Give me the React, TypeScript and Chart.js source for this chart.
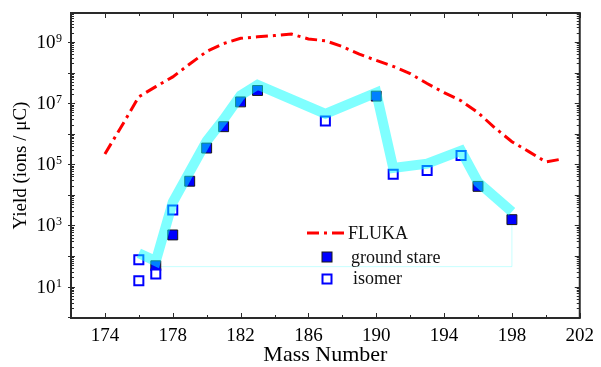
import React, { useEffect, useRef } from "react";
import { Chart, registerables } from "chart.js";

Chart.register(...registerables);

// ---- data ----
const flukaMass = [174, 175, 176, 177, 178, 179, 180, 181, 182, 183, 184, 185, 186, 187, 188, 189, 190, 191, 192, 193, 194, 195, 196, 197, 198, 199, 200, 201];
const flukaYield = [2.19e5, 1.82e6, 1.62e7, 3.47e7, 7.24e7, 1.91e8, 4.9e8, 8.9e8, 1.32e9, 1.48e9, 1.62e9, 1.82e9, 1.26e9, 1.1e9, 7.1e8, 4.0e8, 2.5e8, 1.6e8, 9.3e7, 4.4e7, 2.2e7, 1.2e7, 4.9e6, 1.55e6, 5.5e5, 2.6e5, 1.2e5, 1.5e5];

const groundMass = [177, 178, 179, 180, 181, 182, 183, 190, 196, 198];
const groundYield = [48, 490, 2.8e4, 3.4e5, 1.7e6, 1.1e7, 2.6e7, 1.7e7, 1.9e4, 1.55e3];

const isomerMass = [176, 176, 177, 178, 187, 191, 193, 195];
const isomerYield = [76, 15.5, 26, 3200, 2.6e6, 4.7e4, 6.3e4, 1.95e5];

const bandMass = [176, 177, 178, 180, 181, 182, 183, 187, 190, 191, 193, 195, 196, 198];
const bandYield = [123, 68, 5750, 5.75e5, 2.95e6, 1.8e7, 4.0e7, 4.5e6, 2.2e7, 7.6e4, 1.05e5, 2.8e5, 2.6e4, 2.8e3];

const traceMass = [177, 198, 198];
const traceYield = [45, 45, 2000];

const xMajorTicks = [174, 178, 182, 186, 190, 194, 198, 202];
const xMinorTicks = [176, 180, 184, 188, 192, 196, 200];
const yLabelExponents = [1, 3, 5, 7, 9];
const yDecadeExponents = [0, 1, 2, 3, 4, 5, 6, 7, 8, 9, 10];

const legendLabels = ["FLUKA", "ground stare", "isomer"];

const FONT = "'Liberation Serif', 'Times New Roman', serif";
const DASH = [12, 5, 3, 5];

const toPts = (xs: number[], ys: number[]) => xs.map((x, i) => ({ x, y: ys[i] }));

const framePlugin = {
  id: "frameTicksLegend",
  afterDraw(chart: any) {
    const { ctx, chartArea, scales } = chart;
    const { left, right, top, bottom } = chartArea;
    const xs = scales.x;
    const ys = scales.y;
    ctx.save();
    ctx.strokeStyle = "#2a2a2a";
    ctx.lineWidth = 1;
    // x ticks (bottom & top, inward)
    const vline = (x: number, y1: number, y2: number) => {
      ctx.beginPath();
      ctx.moveTo(x, y1);
      ctx.lineTo(x, y2);
      ctx.stroke();
    };
    const hline = (y: number, x1: number, x2: number) => {
      ctx.beginPath();
      ctx.moveTo(x1, y);
      ctx.lineTo(x2, y);
      ctx.stroke();
    };
    xMajorTicks.forEach((v) => {
      const px = Math.round(xs.getPixelForValue(v)) + 0.5;
      vline(px, bottom, bottom - 5);
      vline(px, top, top + 5);
    });
    xMinorTicks.forEach((v) => {
      const px = Math.round(xs.getPixelForValue(v)) + 0.5;
      vline(px, bottom, bottom - 3);
      vline(px, top, top + 3);
    });
    // y ticks (log)
    const yMin = ys.min;
    const yMax = ys.max;
    yDecadeExponents.forEach((e) => {
      const dv = Math.pow(10, e);
      if (dv >= yMin && dv <= yMax) {
        const py = Math.round(ys.getPixelForValue(dv)) + 0.5;
        hline(py, left - 3, left + 4);
        hline(py, right - 5, right);
      }
      for (let k = 2; k <= 9; k++) {
        const v = k * dv;
        if (v < yMin || v > yMax) continue;
        const py = Math.round(ys.getPixelForValue(v)) + 0.5;
        hline(py, left, left + 3);
        hline(py, right - 3, right);
      }
    });
    // frame
    ctx.strokeStyle = "#2a2a2a";
    ctx.lineWidth = 2;
    ctx.strokeRect(left, top, right - left, bottom - top);

    // y tick labels with superscripts
    ctx.fillStyle = "#000";
    const labelRight = left - 9;
    yLabelExponents.forEach((e) => {
      const yy = ys.getPixelForValue(Math.pow(10, e));
      const es = String(e);
      ctx.font = `12px ${FONT}`;
      const ew = ctx.measureText(es).width;
      ctx.textAlign = "left";
      ctx.textBaseline = "alphabetic";
      ctx.fillText(es, labelRight - ew, yy);
      ctx.font = `19px ${FONT}`;
      ctx.textAlign = "right";
      ctx.textBaseline = "middle";
      ctx.fillText("10", labelRight - ew - 0.5, yy + 1);
    });

    // legend
    const lx = left + 236;
    const ly = top + 220;
    ctx.strokeStyle = "#ff0000";
    ctx.lineWidth = 3;
    ctx.setLineDash(DASH);
    ctx.beginPath();
    ctx.moveTo(lx, ly);
    ctx.lineTo(lx + 38, ly);
    ctx.stroke();
    ctx.setLineDash([]);
    ctx.font = `18px ${FONT}`;
    ctx.textAlign = "left";
    ctx.textBaseline = "alphabetic";
    ctx.fillStyle = "#111";
    ctx.fillText(legendLabels[0], lx + 41, ly + 6);

    // ground square
    const sqx = lx + 20;
    ctx.fillStyle = "#0000ff";
    ctx.fillRect(sqx - 5, ly + 19, 10, 10);
    ctx.strokeStyle = "#1a1a1a";
    ctx.lineWidth = 1;
    ctx.strokeRect(sqx - 5, ly + 19, 10, 10);
    ctx.fillStyle = "#111";
    ctx.fillText(legendLabels[1], lx + 44, ly + 30);

    // isomer square
    ctx.fillStyle = "#ffffff";
    ctx.fillRect(sqx - 4.5, ly + 41.5, 9, 9);
    ctx.strokeStyle = "#0000ff";
    ctx.lineWidth = 2;
    ctx.strokeRect(sqx - 4.5, ly + 41.5, 9, 9);
    ctx.fillStyle = "#111";
    ctx.fillText(legendLabels[2], lx + 46, ly + 51);

    ctx.restore();
  },
};

export default function App() {
  const canvasRef = useRef<HTMLCanvasElement | null>(null);

  useEffect(() => {
    const canvas = canvasRef.current;
    if (!canvas) return;
    const chart = new Chart(canvas, {
      type: "scatter",
      data: {
        datasets: [
          {
            type: "line",
            label: "FLUKA",
            data: toPts(flukaMass, flukaYield),
            borderColor: "#ff0000",
            borderWidth: 3,
            borderDash: DASH,
            pointRadius: 0,
            fill: false,
            tension: 0,
            order: 5,
          } as any,
          {
            type: "line",
            label: "trace",
            data: toPts(traceMass, traceYield),
            borderColor: "rgba(0,255,255,0.22)",
            borderWidth: 1,
            pointRadius: 0,
            fill: false,
            order: 4,
          } as any,
          {
            label: "ground stare",
            data: toPts(groundMass, groundYield),
            pointStyle: "rect",
            pointRadius: 7,
            backgroundColor: "#0000ff",
            borderColor: "#1a1a1a",
            borderWidth: 1,
            showLine: false,
            order: 3,
          } as any,
          {
            label: "isomer",
            data: toPts(isomerMass, isomerYield),
            pointStyle: "rect",
            pointRadius: 6.4,
            backgroundColor: "#ffffff",
            borderColor: "#0000ff",
            borderWidth: 2,
            showLine: false,
            order: 2,
          } as any,
          {
            type: "line",
            label: "band",
            data: toPts(bandMass, bandYield),
            borderColor: "rgba(0,255,255,0.5)",
            borderWidth: 10,
            borderJoinStyle: "miter",
            borderCapStyle: "butt",
            pointRadius: 0,
            fill: false,
            tension: 0,
            order: 1,
          } as any,
        ],
      },
      options: {
        responsive: false,
        animation: false,
        devicePixelRatio: 1,
        events: [],
        layout: { padding: { top: 13, right: 18, left: 0, bottom: 0 } },
        plugins: { legend: { display: false }, tooltip: { enabled: false } },
        scales: {
          x: {
            type: "linear",
            position: "bottom",
            min: 172,
            max: 202,
            grid: { display: false, drawTicks: false },
            border: { display: false },
            afterBuildTicks: (s: any) => {
              s.ticks = xMajorTicks.map((v) => ({ value: v }));
            },
            ticks: {
              autoSkip: false,
              maxRotation: 0,
              padding: 7,
              color: "#000",
              font: { family: FONT, size: 19 },
              callback: (v: any) => String(v),
            },
            title: {
              display: true,
              text: "Mass Number",
              color: "#000",
              font: { family: FONT, size: 22, lineHeight: 1 },
              padding: { top: 0, bottom: 1 },
            },
            afterFit: (s: any) => {
              s.height = 49;
            },
          },
          y: {
            type: "logarithmic",
            min: 0.94,
            max: 8.9e9,
            grid: { display: false, drawTicks: false },
            border: { display: false },
            ticks: { display: false },
            title: {
              display: true,
              text: "Yield (ions / μC)",
              color: "#000",
              font: { family: FONT, size: 19 },
              padding: { top: 10, bottom: 0 },
            },
            afterFit: (s: any) => {
              s.width = 71;
            },
          },
        },
      } as any,
      plugins: [framePlugin],
    });
    return () => {
      chart.destroy();
    };
  }, []);

  return (
    <div style={{ position: "fixed", left: 0, top: 0, width: 601, height: 367, background: "#fff" }}>
      <canvas ref={canvasRef} width={601} height={367} style={{ display: "block", width: 601, height: 367 }} />
    </div>
  );
}
